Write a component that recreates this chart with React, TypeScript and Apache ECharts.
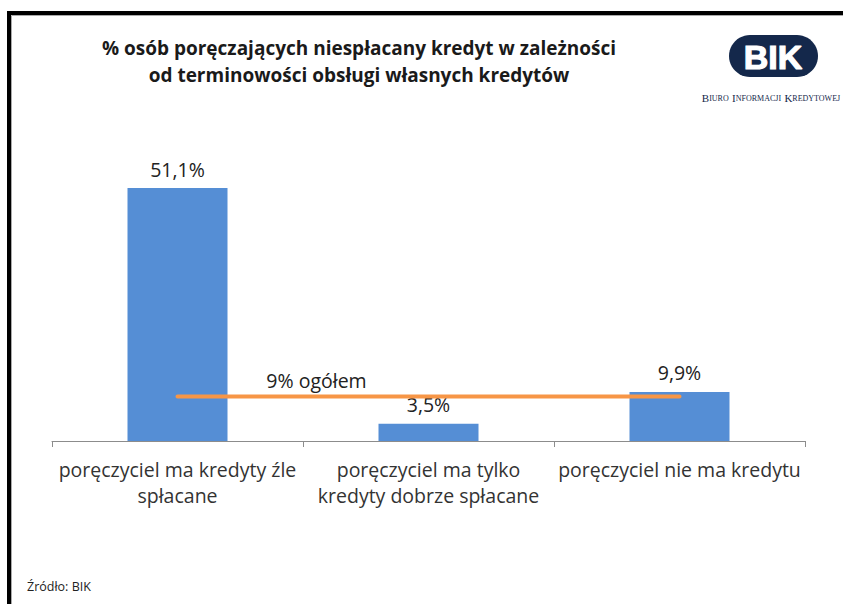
import React, { useEffect, useRef } from "react";
import * as echarts from "echarts";

const categories = [
  "poręczyciel ma kredyty źle\nspłacane",
  "poręczyciel ma tylko\nkredyty dobrze spłacane",
  "poręczyciel nie ma kredytu",
];
const barValues = [51.1, 3.5, 9.9];
const overallValues = [9, 9, 9];
const overallLabel = "9% ogółem";
const titleText =
  "% osób poręczających niespłacany kredyt w zależności\nod terminowości obsługi własnych kredytów";
const sourceText = "Źródło: BIK";

const FONT = "'Open Sans', sans-serif";

export default function App() {
  const ref = useRef<HTMLDivElement>(null);
  useEffect(() => {
    if (!ref.current) return;
    const chart = echarts.init(ref.current, null, { renderer: "svg" });
    const navy = "#14284b";
    chart.setOption({
      animation: false,
      backgroundColor: "#ffffff",
      title: {
        text: titleText,
        left: 354,
        top: 29,
        textAlign: "center",
        textStyle: {
          fontFamily: FONT,
          fontSize: 19,
          fontWeight: "bold",
          color: "#1a1a1a",
          lineHeight: 27,
        },
      },
      grid: { left: 52, right: 38, top: 144, bottom: 163, containLabel: false },
      xAxis: {
        type: "category",
        data: categories,
        boundaryGap: true,
        axisLine: { lineStyle: { color: "#8c8c8c", width: 1 } },
        axisTick: { show: true, length: 6, lineStyle: { color: "#8c8c8c" } },
        axisLabel: {
          fontFamily: FONT,
          fontSize: 19.5,
          color: "#333333",
          lineHeight: 26,
          margin: 15,
          interval: 0,
        },
      },
      yAxis: { type: "value", min: 0, max: 60, show: false, splitLine: { show: false } },
      series: [
        {
          type: "bar",
          data: barValues,
          barWidth: 100,
          itemStyle: { color: "#558ed5" },
          label: {
            show: true,
            position: "top",
            distance: 9,
            fontFamily: FONT,
            fontSize: 19.5,
            color: "#222222",
            formatter: (p: any) => p.value.toFixed(1).replace(".", ",") + "%",
          },
        },
        {
          type: "line",
          data: overallValues.map((v, i) =>
            i === 0
              ? {
                  value: v,
                  label: {
                    show: true,
                    formatter: overallLabel,
                    position: "top",
                    distance: 6,
                    offset: [139, 0],
                    fontFamily: FONT,
                    fontSize: 19.5,
                    color: "#222222",
                  },
                }
              : v
          ),
          symbol: "circle",
          symbolSize: 0,
          showSymbol: true,
          lineStyle: { color: "#f79646", width: 4, cap: "round" },
          itemStyle: { color: "#f79646" },
          label: { show: false },
          z: 5,
        },
      ],
      graphic: [
        {
          type: "rect",
          shape: { x: 9, y: 13, width: 850, height: 620 },
          style: { fill: "none", stroke: "#000", lineWidth: 4 },
        },
        {
          type: "line",
          shape: { x1: 11.5, y1: 15.5, x2: 843, y2: 15.5 },
          style: { stroke: "#aaaaaa", lineWidth: 1 },
        },
        {
          type: "line",
          shape: { x1: 11.5, y1: 15.5, x2: 11.5, y2: 604 },
          style: { stroke: "#aaaaaa", lineWidth: 1 },
        },
        {
          type: "text",
          left: 27,
          top: 580,
          style: { text: sourceText, font: `12.5px ${FONT}`, fill: "#222" },
        },
        {
          type: "group",
          children: [
            { type: "circle", shape: { cx: 750, cy: 56, r: 21 }, style: { fill: navy } },
            { type: "circle", shape: { cx: 797, cy: 56, r: 21 }, style: { fill: navy } },
            { type: "rect", shape: { x: 750, y: 35, width: 47, height: 42 }, style: { fill: navy } },
            {
              type: "text",
              x: 773,
              y: 57,
              style: {
                text: "BIK",
                font: `900 34px 'Liberation Sans', Arial, sans-serif`,
                fill: "#ffffff",
                stroke: "#ffffff",
                lineWidth: 1.2,
                align: "center",
                verticalAlign: "middle",
              },
            },
            {
              type: "text",
              x: 771,
              y: 98,
              style: {
                text: "{b|B}{s|IURO} {b|I}{s|NFORMACJI} {b|K}{s|REDYTOWEJ}",
                align: "center",
                verticalAlign: "middle",
                fill: navy,
                rich: {
                  b: { font: `11px 'Liberation Serif', 'DejaVu Serif', serif`, fill: navy },
                  s: { font: `8px 'Liberation Serif', 'DejaVu Serif', serif`, fill: navy },
                },
              },
            },
          ],
        },
      ],
    });
    return () => chart.dispose();
  }, []);
  return (
    <div
      ref={ref}
      style={{ position: "absolute", left: 0, top: 0, width: 843, height: 604 }}
    />
  );
}
